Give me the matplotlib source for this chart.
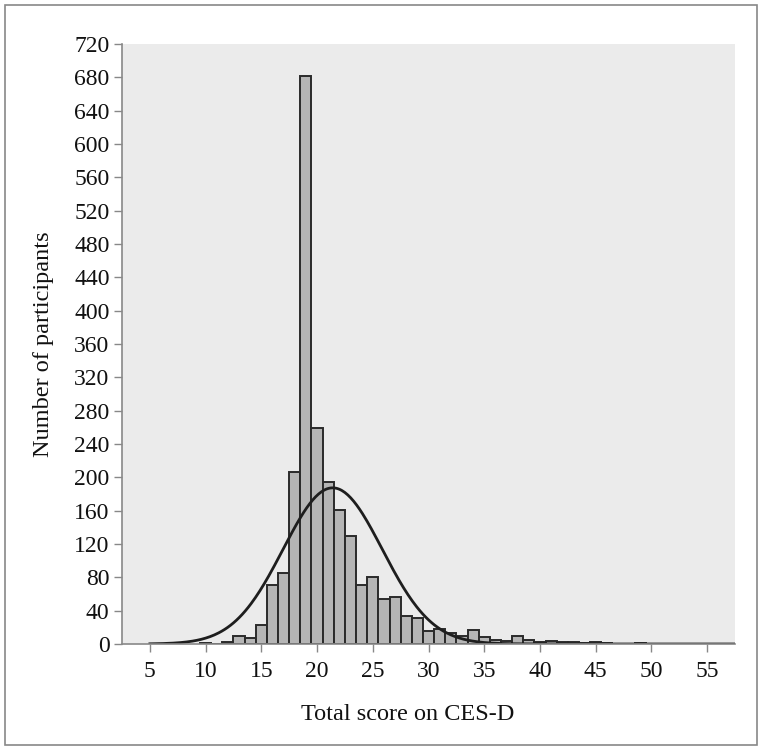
import numpy as np
import matplotlib.pyplot as plt
from matplotlib.patches import Rectangle

# histogram of CES-D total scores (one bar per integer score)
scores = np.arange(10, 50)
counts = [1, 0, 2, 10, 7, 23, 71, 85, 206, 681,
          259, 194, 161, 129, 71, 80, 54, 56, 33, 31,
          16, 18, 13, 9, 17, 8, 5, 4, 10, 5,
          2, 3, 2, 2, 1, 2, 1, 0, 0, 1]

# fitted normal curve
fit_mean = 21.4
fit_sd = 4.45
fit_n = 2090

xticks = [5, 10, 15, 20, 25, 30, 35, 40, 45, 50, 55]
yticks = list(range(0, 721, 40))

plt.rcParams['font.family'] = ['Liberation Serif', 'DejaVu Serif']

fig = plt.figure(figsize=(7.65, 7.54), dpi=100)
ax = fig.add_axes([0.1595, 0.1459, 0.8013, 0.7958])
ax.set_facecolor('#ebebeb')

ax.bar(scores, counts, width=1.0, color='#b5b5b5', edgecolor='#2a2a2a', linewidth=1.4)

xs = np.linspace(5, 57.5, 400)
ys = fit_n / (fit_sd * np.sqrt(2 * np.pi)) * np.exp(-(xs - fit_mean) ** 2 / (2 * fit_sd ** 2))
ax.plot(xs, ys, color='#1e1e1e', linewidth=2.0)

ax.set_xlim(2.5, 57.5)
ax.set_ylim(0, 720)
ax.set_xticks(xticks)
ax.set_yticks(yticks)
ax.tick_params(axis='both', direction='out', length=6, width=1, color='#888888',
               labelsize=17, labelcolor='#111111')
ax.tick_params(axis='x', pad=6)
ax.tick_params(axis='y', pad=3)

for s in ['top', 'right']:
    ax.spines[s].set_visible(False)
for s in ['left', 'bottom']:
    ax.spines[s].set_color('#888888')
    ax.spines[s].set_linewidth(1.2)

ax.set_xlabel('Total score on CES-D', fontsize=17.5, color='#111111')
ax.set_ylabel('Number of participants', fontsize=17.5, color='#111111')
ax.xaxis.set_label_coords(0.4666, -0.1)
ax.yaxis.set_label_coords(-0.111, 0.5)

# outer frame
fig.patches.append(Rectangle((0.0065, 0.012), 0.983, 0.981, transform=fig.transFigure,
                             fill=False, edgecolor='#888888', linewidth=1.2))

fig.savefig('out.png', dpi=100)
